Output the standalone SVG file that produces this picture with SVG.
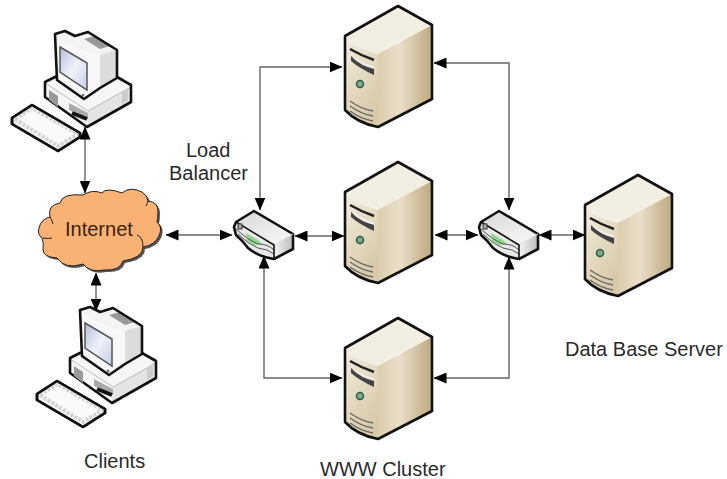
<svg xmlns="http://www.w3.org/2000/svg" width="727" height="479" viewBox="0 0 727 479">
<style>
text{font-family:"Liberation Sans",Arial,sans-serif;font-size:20px;fill:#2a2a2a}
.c{fill:none;stroke:#666;stroke-width:1.4}
.o{stroke:#111;stroke-width:2.6;stroke-linejoin:round;fill:none}
</style>
<defs>
<marker id="a" viewBox="0 0 13 11" refX="12.5" refY="5.5" markerWidth="13" markerHeight="11" markerUnits="userSpaceOnUse" orient="auto-start-reverse"><path d="M0 0L13 5.5L0 11Z" fill="#000"/></marker>
<linearGradient id="sr" x1="0" x2="1" y1="0" y2="0"><stop offset="0" stop-color="#dccdae"/><stop offset=".4" stop-color="#eadfc9"/><stop offset="1" stop-color="#bda87e"/></linearGradient>
<linearGradient id="sf" x1="0" x2=".5" y1="0" y2="1"><stop offset="0" stop-color="#f4eee0"/><stop offset="1" stop-color="#d8caa9"/></linearGradient>
<linearGradient id="scr" x1="0" x2="1" y1="0" y2="1"><stop offset="0" stop-color="#b4bedd"/><stop offset=".5" stop-color="#f0f2fa"/><stop offset="1" stop-color="#c5cde6"/></linearGradient>
<linearGradient id="sw" x1="0" x2="1" y1="0" y2="1"><stop offset="0" stop-color="#d8d8d8"/><stop offset="1" stop-color="#fafafa"/></linearGradient>
<linearGradient id="sw2" x1="0" x2="1" y1="0" y2="0"><stop offset="0" stop-color="#f4f4f4"/><stop offset="1" stop-color="#bbb"/></linearGradient>
<g id="server">
<path d="M0 30Q4 40 33 48L87 19L53 0Z" fill="#f3eee2"/>
<path d="M33 48L87 19V93L33 121Z" fill="url(#sr)"/>
<path d="M0 30Q4 40 33 48V121Q12 117 0 104Z" fill="url(#sf)"/>
<path d="M0 30L53 0L87 19V93L33 121Q12 117 0 104Z" class="o"/>
<path d="M5 43Q17 50 29 54" fill="none" stroke="#222" stroke-width="2.6"/>
<path d="M6 50Q18 62 29 62V69Q14 62 6 55Z" fill="#444"/>
<path d="M8 50Q18 58 29 60V63Q16 59 8 52Z" fill="#eee"/>
<circle cx="15" cy="78" r="3.5" fill="#7faa8c" stroke="#2a5a45" stroke-width="1.5"/>
<path d="M5 95Q16 103 28 105M5 100Q16 108 28 110M5 105Q16 113 28 115" fill="none" stroke="#666" stroke-width="1.3"/>
</g>
<g id="computer">
<path d="M45 82L57 76L117 77L131 85V102L87 127L45 97Z" fill="#f6f6f6"/>
<path d="M88 111L131 87V102L87 127Z" fill="#e4e4e4"/>
<path d="M45 83L88 111L131 87" fill="none" stroke="#bbb"/>
<path d="M57 76L45 82V97L87 127L131 102V85L117 77" class="o"/>
<path d="M49 90L58 96V107L49 100Z" fill="#999"/>
<path d="M69 103L88 113V119L69 110Z" fill="#aaa"/>
<path d="M72 113L87 119" stroke="#111" stroke-width="4"/>
<path d="M122 92L128 88V100L122 104Z" fill="#ccc"/>
<path d="M55 34L65 31L75 36L88 32L117 50V78L100 88L84 99L57 80Z" fill="#f3f3f3"/>
<path d="M100 55L117 50V78L100 88Z" fill="#dcdcdc"/>
<path d="M56 36Q75 50 100 55V88L84 99L57 80Z" fill="#f8f8f8"/>
<path d="M60 47L87 63V90L60 72Z" fill="url(#scr)" stroke="#555" stroke-width="1.5"/>
<path d="M84 39L95 36L110 46L100 49Z" fill="#999"/>
<circle cx="83" cy="95" r="1.5" fill="#777"/>
<path d="M55 34L65 31L75 36L88 32L117 50V78L100 88L84 99L57 80Z" class="o"/>
<path d="M12 118L32 105L80 133V137L58 151L12 124Z" fill="#f4f4f4" class="o" style="fill:#f4f4f4"/>
<path d="M15 119L32 108L78 134L58 146Z" fill="#fafafa" stroke="#d4d4d4" stroke-width="4" stroke-dasharray="3 1.5"/>
<path d="M12 118L32 105L80 133V137L58 151L12 124Z" class="o"/>
</g>
<g id="switch">
<path d="M2 11L20 0L59 23L40 34Z" fill="url(#sw)"/>
<path d="M40 34L59 23V38L40 48Z" fill="url(#sw2)"/>
<path d="M1 13L40 34V48Q25 46 14 37Q8 29 2 24Z" fill="#e8e8e8"/>
<path d="M12 22L24 29L28 33L20 34L13 30Z" fill="#8fd98f"/>
<path d="M2 18Q14 29 24 33Q34 33 40 39M4 23Q14 33 24 37Q34 38 40 43" fill="none" stroke="#555"/>
<path d="M2 11L20 0L59 23V38L40 48Q25 46 14 37Q8 29 2 24L0 16Z" class="o"/>
<path d="M40 34L59 23" stroke="#ddd" fill="none"/>
<path d="M2 11L40 34V48" stroke="#111" stroke-width="1.6" fill="none"/>
<rect x="4" y="13" width="4" height="5" fill="#aaa" stroke="#333"/>
</g>
</defs>
<g id="connectors">
<path class="c" d="M85 127V193" marker-start="url(#a)" marker-end="url(#a)"/>
<path class="c" d="M96 273V311" marker-start="url(#a)" marker-end="url(#a)"/>
<path class="c" d="M166 235H232" marker-start="url(#a)" marker-end="url(#a)"/>
<path class="c" d="M260 210V67H342" marker-start="url(#a)" marker-end="url(#a)"/>
<path class="c" d="M264 256V378H342" marker-start="url(#a)" marker-end="url(#a)"/>
<path class="c" d="M295 236H344" marker-start="url(#a)" marker-end="url(#a)"/>
<path class="c" d="M435 235H478" marker-start="url(#a)" marker-end="url(#a)"/>
<path class="c" d="M539 235H585" marker-start="url(#a)" marker-end="url(#a)"/>
<path class="c" d="M509 210V63H434" marker-start="url(#a)" marker-end="url(#a)"/>
<path class="c" d="M509 257V378H434" marker-start="url(#a)" marker-end="url(#a)"/>
</g>
<g id="client-top"><use href="#computer"/></g>
<g id="client-bottom"><use href="#computer" x="25" y="276"/></g>
<g id="internet">
<path transform="translate(2 2)" fill="#555" d="M39 228Q41 219 50 217Q47 205 60 203Q62 193 83 195Q92 189 102 193Q106 187 122 193Q130 186 142 192Q148 196 148 201Q158 202 158 211Q158 218 157 222Q163 227 159 236Q155 245 143 247Q143 258 123 261Q120 271 104 270Q90 273 83 264Q65 270 57 258Q43 257 43 250Q44 243 42 238Q37 234 39 228Z"/>
<path fill="#f9b273" stroke="#222" stroke-width="1" d="M39 228Q41 219 50 217Q47 205 60 203Q62 193 83 195Q92 189 102 193Q106 187 122 193Q130 186 142 192Q148 196 148 201Q158 202 158 211Q158 218 157 222Q163 227 159 236Q155 245 143 247Q143 258 123 261Q120 271 104 270Q90 273 83 264Q65 270 57 258Q43 257 43 250Q44 243 42 238Q37 234 39 228Z"/>
<path fill="none" stroke="#222" d="M43 238Q48 239 52 238M137 235Q143 237 143 247M50 217Q52 220 53 224M148 201Q147 204 146 206"/>
<text x="65" y="236" style="fill:#3a2210">Internet</text>
</g>
<g id="load-balancer"><use href="#switch" x="234" y="211"/></g>
<g id="db-switch"><use href="#switch" x="479" y="211"/></g>
<g id="www-1"><use href="#server" x="345" y="6"/></g>
<g id="www-2"><use href="#server" x="345" y="162"/></g>
<g id="www-3"><use href="#server" x="345" y="318"/></g>
<g id="db-server"><use href="#server" x="585" y="175"/></g>
<text x="186" y="157">Load</text>
<text x="169" y="180">Balancer</text>
<text x="84" y="468">Clients</text>
<text x="320" y="476">WWW Cluster</text>
<text x="565" y="356">Data Base Server</text>
</svg>
